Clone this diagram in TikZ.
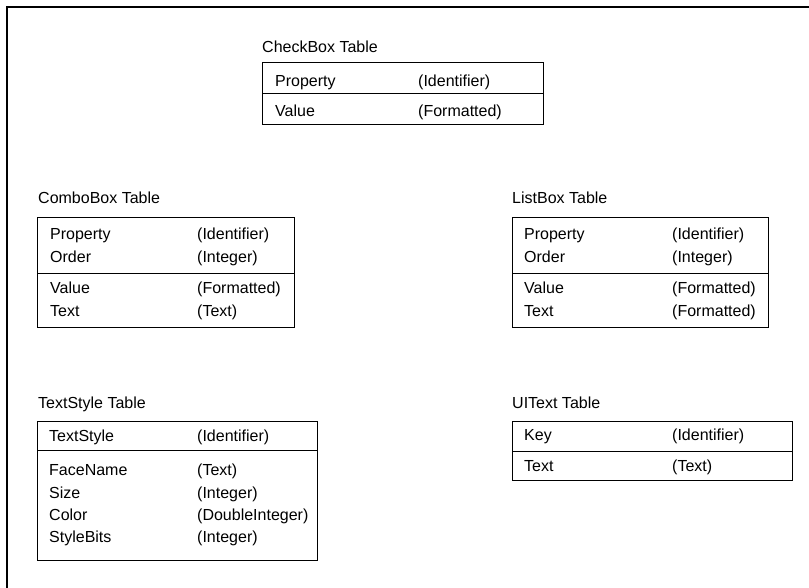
\documentclass[tikz,border=0pt]{standalone}
\usepackage{fontspec}
\setmainfont{Liberation Sans}

\begin{document}
\begin{tikzpicture}[x=1pt,y=-1pt,
	tbl/.style={black, line width=0.9pt},
	fld/.style={anchor=base west, inner sep=0pt, font=\fontsize{16}{19}\selectfont}]
	\useasboundingbox (0,0) rectangle (809,588);
	\draw[line width=2pt, black] (6.5,588) -- (6.5,7.5) -- (809,7.5);
	
	\node[fld] (chkT) at (262,52.5) {CheckBox Table};
	\draw[tbl] (262.5,62) rectangle (543,124.5); \draw[tbl] (262.5,93.5) -- (543,93.5);
	\node[fld] (chkP) at (275,86.5) {Property}; \node[fld] (chkPt) at (418,86.5) {(Identifier)};
	\node[fld] (chkV) at (275,117) {Value}; \node[fld] (chkVt) at (418,117) {(Formatted)};
	
	\node[fld] (cmbT) at (38,203.5) {ComboBox Table};
	\draw[tbl] (37.5,217) rectangle (294,327); \draw[tbl] (37.5,273) -- (294,273);
	\node[fld] (cmbP) at (50,239.5) {Property}; \node[fld] (cmbPt) at (197,239.5) {(Identifier)};
	\node[fld] (cmbO) at (50,262.5) {Order}; \node[fld] (cmbOt) at (197,262.5) {(Integer)};
	\node[fld] (cmbV) at (50,293.5) {Value}; \node[fld] (cmbVt) at (197,293.5) {(Formatted)};
	\node[fld] (cmbX) at (50,316.5) {Text}; \node[fld] (cmbXt) at (197,316.5) {(Text)};
	
	\node[fld] (lstT) at (512,203.5) {ListBox Table};
	\draw[tbl] (512.5,217) rectangle (768,327); \draw[tbl] (512.5,273) -- (768,273);
	\node[fld] (lstP) at (524,239.5) {Property}; \node[fld] (lstPt) at (672,239.5) {(Identifier)};
	\node[fld] (lstO) at (524,262.5) {Order}; \node[fld] (lstOt) at (672,262.5) {(Integer)};
	\node[fld] (lstV) at (524,293.5) {Value}; \node[fld] (lstVt) at (672,293.5) {(Formatted)};
	\node[fld] (lstX) at (524,316.5) {Text}; \node[fld] (lstXt) at (672,316.5) {(Formatted)};
	
	\node[fld] (tsT) at (38,408.5) {TextStyle Table};
	\draw[tbl] (37.5,421) rectangle (317,560); \draw[tbl] (37.5,450) -- (317,450);
	\node[fld] (tsS) at (49,441.5) {TextStyle}; \node[fld] (tsSt) at (197,441.5) {(Identifier)};
	\node[fld] (tsF) at (49,475.5) {FaceName}; \node[fld] (tsFt) at (197,475.5) {(Text)};
	\node[fld] (tsZ) at (49,498.5) {Size}; \node[fld] (tsZt) at (197,498.5) {(Integer)};
	\node[fld] (tsC) at (49,520.5) {Color}; \node[fld] (tsCt) at (197,520.5) {(DoubleInteger)};
	\node[fld] (tsB) at (49,542.5) {StyleBits}; \node[fld] (tsBt) at (197,542.5) {(Integer)};
	
	\node[fld] (uiT) at (512,408.5) {UIText Table};
	\draw[tbl] (512.5,421) rectangle (792,480); \draw[tbl] (512.5,451) -- (792,451);
	\node[fld] (uiK) at (524,440.5) {Key}; \node[fld] (uiKt) at (672,440.5) {(Identifier)};
	\node[fld] (uiX) at (524,471.5) {Text}; \node[fld] (uiXt) at (672,471.5) {(Text)};
\end{tikzpicture}
\end{document}
